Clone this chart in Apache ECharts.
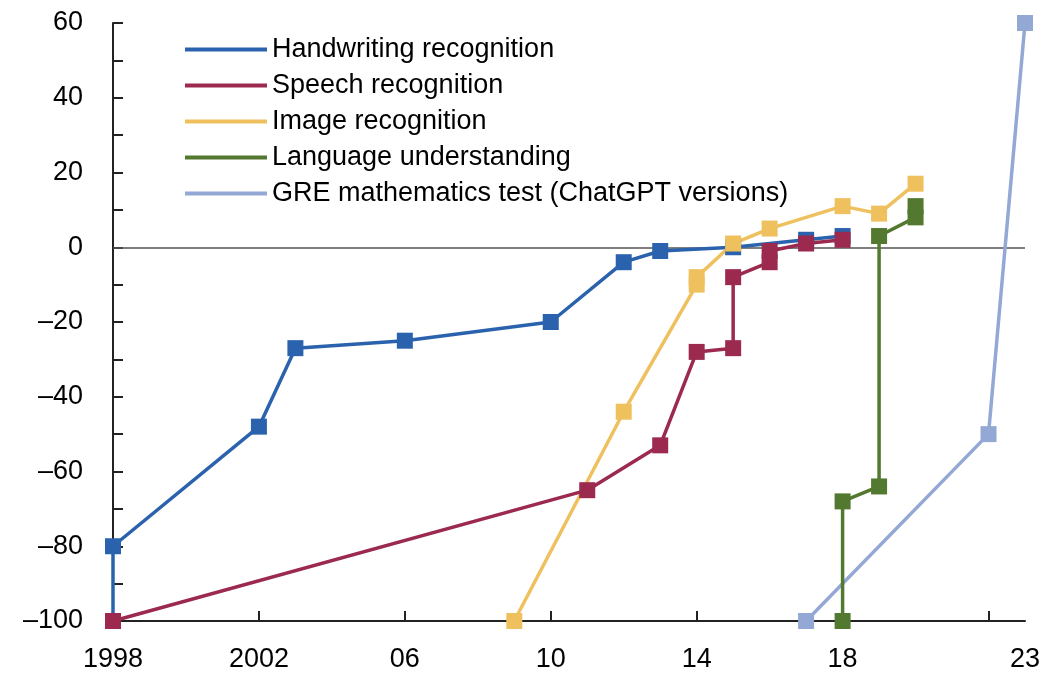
<!DOCTYPE html>
<html>
<head>
<meta charset="utf-8">
<script src="https://cdn.jsdelivr.net/npm/echarts@6/dist/echarts.min.js"></script>
<style>
  html, body { margin: 0; padding: 0; background: #fff; }
  #chart { width: 1058px; height: 676px; }
</style>
</head>
<body>
<div id="chart"></div>
<script>
// Test scores of AI systems relative to human performance (human = 0)
const seriesNames = [
  'Handwriting recognition',
  'Speech recognition',
  'Image recognition',
  'Language understanding',
  'GRE mathematics test (ChatGPT versions)'
];

const handwriting = [[1998, -100], [1998, -80], [2002, -48], [2003, -27], [2006, -25], [2010, -20], [2012, -4], [2013, -1], [2015, 0], [2017, 2], [2018, 3]];
const speech = [[1998, -100], [2011, -65], [2013, -53], [2014, -28], [2015, -27], [2015, -8], [2016, -4], [2016, -1], [2017, 1], [2018, 2]];
const image = [[2009, -100], [2012, -44], [2014, -10], [2014, -8], [2015, 1], [2016, 5], [2018, 11], [2019, 9], [2020, 17]];
const language = [[2018, -100], [2018, -68], [2019, -64], [2019, 3], [2020, 8], [2020, 11]];
const gre = [[2017, -100], [2022, -50], [2023, 60]];

// x-axis tick positions and labels
const xTickYears = [2002, 2006, 2010, 2014, 2018, 2022];
const xLabelYears = [1998, 2002, 2006, 2010, 2014, 2018, 2023];
const xLabelTexts = ['1998', '2002', '06', '10', '14', '18', '23'];

const colors = {
  'Handwriting recognition': '#2b62ad',
  'Speech recognition': '#9b2a4e',
  'Image recognition': '#efc15e',
  'Language understanding': '#53782f',
  'GRE mathematics test (ChatGPT versions)': '#94a8d6'
};

const font = 'Liberation Sans, Arial, Helvetica, sans-serif';

function lineSeries(name, data, extra) {
  return Object.assign({
    name: name,
    type: 'line',
    data: data,
    symbol: 'rect',
    symbolSize: 16,
    color: colors[name],
    lineStyle: { width: 3.5, color: colors[name] },
    itemStyle: { color: colors[name] },
    animation: false
  }, extra || {});
}

const chart = echarts.init(document.getElementById('chart'), null, { renderer: 'canvas' });

chart.setOption({
  backgroundColor: '#ffffff',
  animation: false,
  grid: { left: 113, right: 33, top: 23, bottom: 55, containLabel: false, outerBoundsMode: 'none' },
  legend: {
    data: seriesNames,
    orient: 'vertical',
    left: 180,
    top: 31,
    icon: 'rect',
    itemWidth: 82,
    itemHeight: 4,
    itemGap: 9,
    textStyle: { fontFamily: font, fontSize: 27, color: '#000', lineHeight: 27 },
    selectedMode: false
  },
  xAxis: {
    type: 'value',
    min: 1998,
    max: 2023,
    splitLine: { show: false },
    axisLine: { onZero: false, lineStyle: { color: '#222', width: 2 } },
    axisTick: { customValues: xTickYears, inside: true, length: 10, lineStyle: { color: '#222', width: 2 } },
    axisLabel: {
      customValues: xLabelYears,
      formatter: function (v) {
        const i = xLabelYears.indexOf(v);
        return i >= 0 ? xLabelTexts[i] : '';
      },
      fontFamily: font, fontSize: 27, color: '#000', margin: 25
    }
  },
  yAxis: {
    type: 'value',
    min: -100,
    max: 60,
    interval: 20,
    splitLine: { show: false },
    axisLine: { show: true, onZero: false, lineStyle: { color: '#222', width: 2 } },
    axisTick: { show: true, inside: true, length: 10, lineStyle: { color: '#222', width: 2 } },
    minorTick: { show: true, splitNumber: 2, length: 10, lineStyle: { color: '#222', width: 2 } },
    axisLabel: {
      fontFamily: font, fontSize: 27, color: '#000', margin: 30,
      formatter: function (v) { return v < 0 ? '\u2013' + Math.abs(v) : String(v); }
    }
  },
  series: [
    lineSeries(seriesNames[4], gre, {
      markLine: {
        silent: true,
        symbol: 'none',
        label: { show: false },
        lineStyle: { color: '#555', width: 1.5, type: 'solid' },
        data: [{ yAxis: 0 }],
        z: 1
      }
    }),
    lineSeries(seriesNames[0], handwriting),
    lineSeries(seriesNames[2], image),
    lineSeries(seriesNames[1], speech),
    lineSeries(seriesNames[3], language)
  ]
});
</script>
</body>
</html>
